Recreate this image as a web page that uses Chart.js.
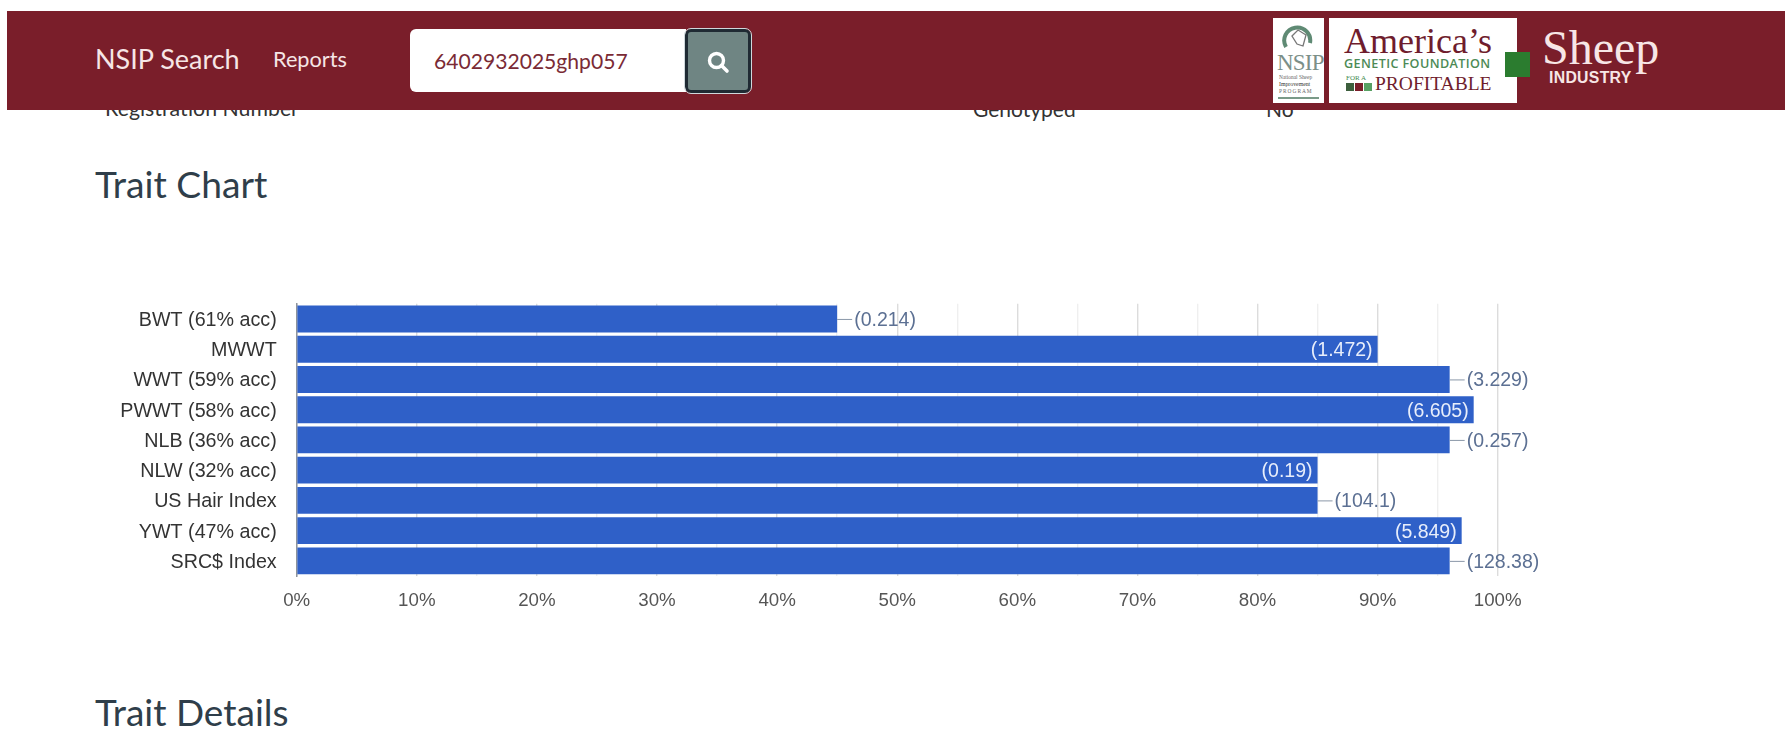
<!DOCTYPE html>
<html><head><meta charset="utf-8">
<script src="https://cdn.jsdelivr.net/npm/chart.js@4"></script>
<style>
html,body{margin:0;padding:0;background:#fff;width:1785px;height:741px;overflow:hidden;position:relative}
.a{position:absolute;white-space:nowrap;line-height:1}
#hdr{position:absolute;left:7px;top:11px;width:1778px;height:99px;background:#7a1e2a;z-index:5}
#wrap{position:absolute;left:0;top:280px;width:1785px;height:360px}
.l{font-family:Lato,sans-serif}
.s{font-family:"Liberation Serif",serif}
</style></head><body>
<div class="a l" style="left:105px;top:98px;font-size:21.3px;color:#333">Registration Number</div>
<div class="a l" style="left:973px;top:98px;font-size:21px;color:#333">Genotyped</div>
<div class="a l" style="left:1266px;top:98px;font-size:21px;color:#333">No</div>
<div id="hdr"></div>
<div style="position:absolute;left:0;top:0;width:1785px;height:120px;z-index:6">
 <div class="a l" style="left:95px;top:45px;font-size:27px;color:#f6e6e6">NSIP Search</div>
 <div class="a l" style="left:273px;top:49px;font-size:21.7px;color:#f6e6e6">Reports</div>
 <div style="position:absolute;left:410px;top:29px;width:276px;height:63px;background:#fff;border-radius:6px 0 0 6px"></div>
 <div class="a l" style="left:434px;top:50px;font-size:21.1px;color:#7a2a35">6402932025ghp057</div>
 <div style="position:absolute;left:685px;top:29px;width:66px;height:64px;box-sizing:border-box;background:#6f8583;border:3px solid #1f2a33;outline:1.5px solid #cfd8dc;border-radius:6px"></div>
 <svg class="a" style="left:706px;top:50px" width="24" height="24" viewBox="0 0 24 24"><circle cx="10.5" cy="10.5" r="7" fill="none" stroke="#fff" stroke-width="3.4"/><line x1="15.5" y1="15.5" x2="21" y2="21" stroke="#fff" stroke-width="3.6" stroke-linecap="round"/></svg>

 <div style="position:absolute;left:1273px;top:18px;width:51px;height:85px;background:#fff"></div>
 <svg class="a" style="left:1281px;top:21px" width="34" height="30" viewBox="0 0 34 30"><path d="M5 26A13 13 0 1 1 29 22" fill="none" stroke="#5f8a74" stroke-width="4"/><path d="M11 15l6-6 8 5-3 11-6-2z" fill="none" stroke="#777" stroke-width="1.3"/></svg>
 <div class="a s" style="left:1277px;top:51px;font-size:23px;color:#7c8f88;letter-spacing:-.8px">NSIP</div>
 <div class="a s" style="left:1279px;top:75px;font-size:5.4px;color:#666">National Sheep</div>
 <div class="a s" style="left:1279px;top:82px;font-size:5.8px;color:#333">Improvement</div>
 <div class="a s" style="left:1279px;top:89px;font-size:5.4px;color:#666;letter-spacing:1px">PROGRAM</div>
 <div style="position:absolute;left:1278px;top:97px;width:41px;height:2px;background:#7a9a88"></div>

 <div style="position:absolute;left:1329px;top:18px;width:188px;height:85px;background:#fff"></div>
 <div class="a s" style="left:1344px;top:23px;font-size:36px;color:#6f1d2d">America’s</div>
 <div class="a" style="left:1344px;top:58px;font-family:'Open Sans',sans-serif;font-weight:600;font-size:12.6px;color:#4c8a55;letter-spacing:.4px">GENETIC FOUNDATION</div>
 <div class="a s" style="left:1346px;top:75px;font-size:7px;color:#3f8a4f">FOR A</div>
 <div style="position:absolute;left:1346px;top:83px;width:8px;height:8px;background:#3d5f3d"></div>
 <div style="position:absolute;left:1355px;top:83px;width:8px;height:8px;background:#7a1e2a"></div>
 <div style="position:absolute;left:1364px;top:83px;width:8px;height:8px;background:#57a063"></div>
 <div class="a s" style="left:1375px;top:74px;font-size:19.5px;color:#6f1d2d">PROFITABLE</div>

 <div style="position:absolute;left:1505px;top:52px;width:25px;height:25px;background:#2b7c2f"></div>
 <div class="a s" style="left:1542px;top:24px;font-size:48px;color:#f7e6e6">Sheep</div>
 <div class="a" style="left:1549px;top:70px;font-family:'Liberation Sans',sans-serif;font-weight:700;font-size:15.8px;color:#f7e6e6;letter-spacing:.3px">INDUSTRY</div>
</div>

<div class="a l" style="left:95px;top:165px;font-size:37.2px;color:#2f3e4a">Trait Chart</div>
<div class="a l" style="left:95px;top:693px;font-size:37px;color:#2f3e4a">Trait Details</div>

<div id="wrap"><canvas id="c" width="1785" height="360"></canvas></div>
<script>
const categories = ["BWT (61% acc)","MWWT","WWT (59% acc)","PWWT (58% acc)","NLB (36% acc)","NLW (32% acc)","US Hair Index","YWT (47% acc)","SRC$ Index"];
const percentValues = [45,90,96,98,96,85,85,97,96];
const valueLabels = ["(0.214)","(1.472)","(3.229)","(6.605)","(0.257)","(0.19)","(104.1)","(5.849)","(128.38)"];
const labelInside = [false,true,false,true,false,true,false,true,false];
const xMax = 100, xStep = 5, xLabelEvery = 10;

const valueLabelPlugin = {
  id:'valueLabels',
  afterDatasetsDraw(chart){
    const ctx = chart.ctx, x = chart.scales.x, y = chart.scales.y;
    ctx.save();
    ctx.font = '19.5px "Liberation Sans", Arial, sans-serif';
    ctx.textBaseline = 'middle';
    percentValues.forEach((v,i)=>{
      const px = x.getPixelForValue(v), py = y.getPixelForValue(i);
      if(labelInside[i]){
        ctx.fillStyle = '#e8eefb'; ctx.textAlign = 'right';
        ctx.fillText(valueLabels[i], px-5, py+1.5);
      } else {
        ctx.strokeStyle = '#8a97a8'; ctx.lineWidth = 1;
        ctx.beginPath(); ctx.moveTo(px, py+.5); ctx.lineTo(px+15, py+.5); ctx.stroke();
        ctx.fillStyle = '#5c7093'; ctx.textAlign = 'left';
        ctx.fillText(valueLabels[i], px+17, py+1.5);
      }
    });
    ctx.restore();
  }
};

new Chart(document.getElementById('c'),{
  type:'bar',
  data:{labels:categories,datasets:[{data:percentValues,backgroundColor:'#2f60c8',barPercentage:0.89,categoryPercentage:1}]},
  options:{
    indexAxis:'y',responsive:false,animation:false,devicePixelRatio:1,
    layout:{padding:{left:0,right:287.3,top:15,bottom:0}},
    plugins:{legend:{display:false},tooltip:{enabled:false},title:{display:false}},
    scales:{
      x:{min:0,max:xMax,
        afterFit(s){s.height=64;},
        border:{display:false},
        grid:{drawTicks:false,color:c=>(c.tick&&c.tick.value%xLabelEvery===0)?'#dcdcdc':'#efefef',lineWidth:1.4},
        ticks:{stepSize:xStep,autoSkip:false,maxRotation:0,padding:14,color:'#555',
          font:{family:'"Liberation Sans", Arial, sans-serif',size:18.7},
          callback:v=>v%xLabelEvery===0?v+'%':''}
      },
      y:{
        afterFit(s){s.width=296.7;},
        border:{display:true,color:'#8d939b',width:1.5},
        grid:{display:false},
        ticks:{padding:12,color:'#333',autoSkip:false,labelOffset:1.5,
          font:{family:'"Liberation Sans", Arial, sans-serif',size:19.7}}
      }
    }
  },
  plugins:[valueLabelPlugin]
});
</script>
</body></html>
